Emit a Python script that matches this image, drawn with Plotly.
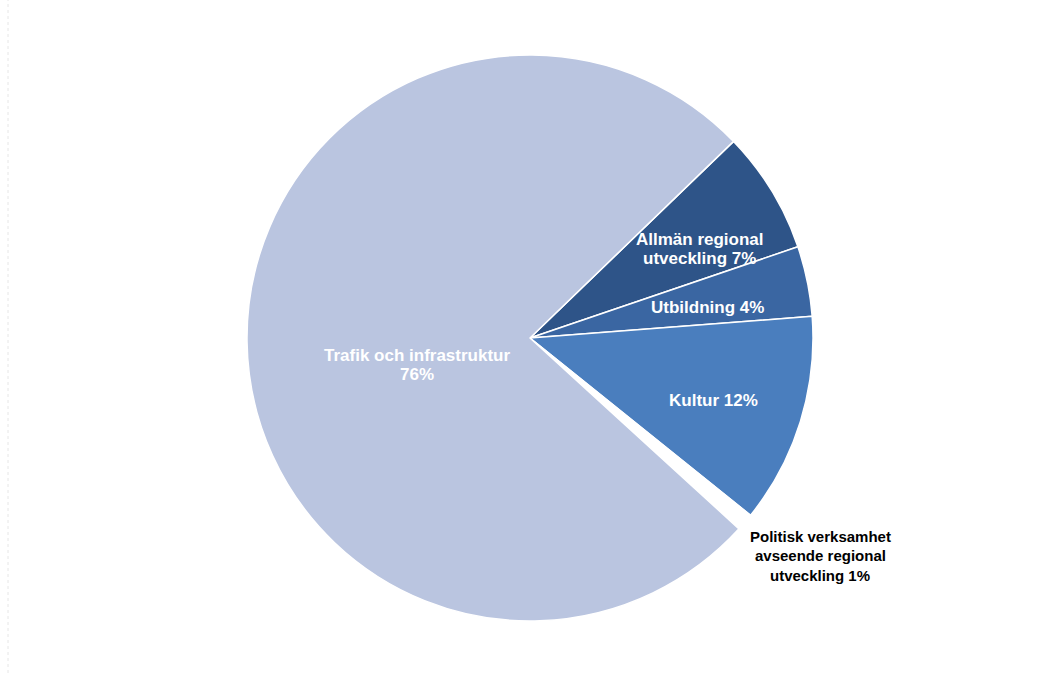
import plotly.graph_objects as go

# Fördelning av kostnader för regional utveckling (procent)
categories = [
    "Allmän regional utveckling",
    "Utbildning",
    "Kultur",
    "Politisk verksamhet avseende regional utveckling",
    "Trafik och infrastruktur",
]
values = [7, 4, 12, 1, 76]
label_lines = [
    ["Allmän regional", "utveckling 7%"],
    ["Utbildning 4%"],
    ["Kultur 12%"],
    ["Politisk verksamhet", "avseende regional", "utveckling 1%"],
    ["Trafik och infrastruktur", "76%"],
]

colors = ["#2E5488", "#3A66A2", "#4A7EBE", "#FFFFFF", "#BAC5E0"]
label_colors = ["white", "white", "white", "black", "white"]
label_sizes = [17, 17, 17, 15, 17]
line_gap = [18.5, 18.5, 18.5, 19.5, 18.5]
# label centres in paper coordinates
label_pos = [
    (0.674, 0.630),
    (0.682, 0.543),
    (0.687, 0.405),
    (0.790, 0.174),
    (0.402, 0.458),
]

W, H = 1038, 673
cx, cy, r = 530, 338, 283

fig = go.Figure(
    go.Pie(
        labels=categories,
        values=values,
        sort=False,
        direction="clockwise",
        rotation=46,
        marker=dict(colors=colors, line=dict(color="white", width=1.5)),
        textinfo="none",
        hoverinfo="skip",
        showlegend=False,
        domain=dict(
            x=[(cx - r) / W, (cx + r) / W],
            y=[1 - (cy + r) / H, 1 - (cy - r) / H],
        ),
    )
)

# each label line is its own annotation so the line spacing stays tight
for lines, col, size, gap, (x, y) in zip(label_lines, label_colors,
                                         label_sizes, line_gap, label_pos):
    n = len(lines)
    for i, line in enumerate(lines):
        fig.add_annotation(
            text=line, x=x, y=y, xref="paper", yref="paper",
            xanchor="center", yanchor="middle", showarrow=False,
            yshift=((n - 1) / 2 - i) * gap,
            font=dict(family="Liberation Sans, Arial, sans-serif", size=size,
                      color=col, weight="bold"),
        )

# faint frame edge on the left
fig.add_shape(type="line", xref="paper", yref="paper",
              x0=8 / W, x1=8 / W, y0=0, y1=1,
              line=dict(color="#E6E6E6", width=1, dash="dot"))

fig.update_layout(
    width=W, height=H,
    margin=dict(l=0, r=0, t=0, b=0),
    paper_bgcolor="white",
    plot_bgcolor="white",
)

fig.write_html("out.html")
